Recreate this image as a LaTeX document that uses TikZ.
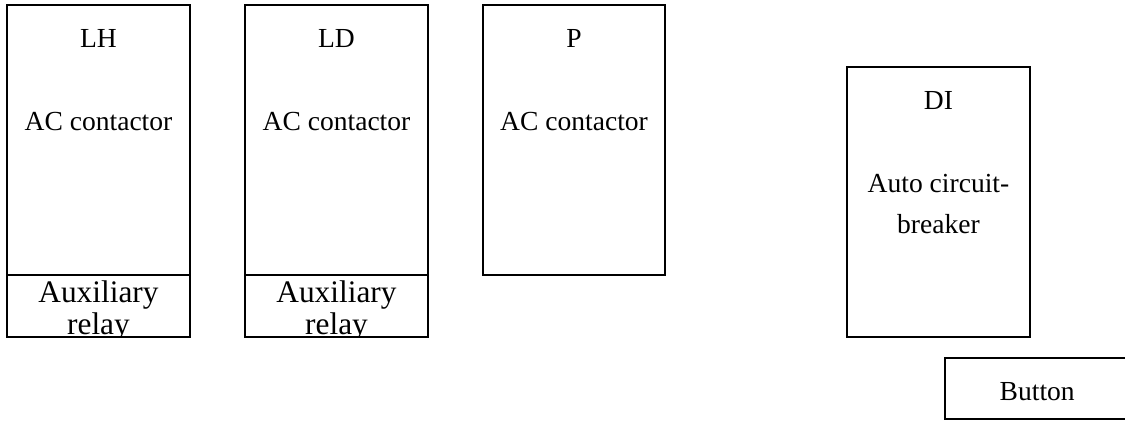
\documentclass[tikz,border=0pt]{standalone}
\usepackage{fontspec}
\setmainfont{Liberation Serif}
\usetikzlibrary{positioning}

\tikzset{
  unitbox/.style={draw=black, line width=0.8pt, inner sep=0pt},
  lbl/.style={anchor=base, inner sep=0pt, font=\fontsize{19.6}{22}\selectfont},
  auxlbl/.style={anchor=base, inner sep=0pt, font=\fontsize{22.3}{26}\selectfont}
}

\begin{document}
\begin{tikzpicture}
    % page frame
    \clip (0,0) rectangle (28.125,-10.5);
    \useasboundingbox (0,0) rectangle (28.125,-10.5);

    % LH contactor with relay
    \node[unitbox, minimum width=4.575cm, minimum height=8.3cm] (lhbox) at (2.4625,-4.275) {};
    \draw[line width=0.8pt] (0.175,-6.875) coordinate (lhdivl) -- (4.75,-6.875) coordinate (lhdivr);
    \node[lbl] (lhname) at (2.4625,-1.175) {LH};
    \node[lbl] (lhtype) at (2.4625,-3.25) {AC contactor};
    \begin{scope}
      \clip (0.175,-6.875) rectangle (4.75,-8.425);
      \node[auxlbl] (lhaux) at (2.4625,-7.55) {Auxiliary};
      \node[auxlbl] (lhrel) at (2.4625,-8.35) {relay};
    \end{scope}

    % LD contactor with relay
    \node[unitbox, minimum width=4.575cm, minimum height=8.3cm] (ldbox) at (8.4125,-4.275) {};
    \draw[line width=0.8pt] (6.125,-6.875) coordinate (lddivl) -- (10.7,-6.875) coordinate (lddivr);
    \node[lbl] (ldname) at (8.4125,-1.175) {LD};
    \node[lbl] (ldtype) at (8.4125,-3.25) {AC contactor};
    \begin{scope}
      \clip (6.125,-6.875) rectangle (10.7,-8.425);
      \node[auxlbl] (ldaux) at (8.4125,-7.55) {Auxiliary};
      \node[auxlbl] (ldrel) at (8.4125,-8.35) {relay};
    \end{scope}

    % P contactor
    \node[unitbox, minimum width=4.55cm, minimum height=6.75cm] (pbox) at (14.35,-3.5) {};
    \node[lbl] (pname) at (14.35,-1.175) {P};
    \node[lbl] (ptype) at (14.35,-3.25) {AC contactor};

    % DI breaker
    \node[unitbox, minimum width=4.575cm, minimum height=6.75cm] (dibox) at (23.4625,-5.05) {};
    \node[lbl] (diname) at (23.4625,-2.725) {DI};
    \node[lbl] (ditype) at (23.4625,-4.8) {Auto circuit-};
    \node[lbl] (ditype2) at (23.4625,-5.825) {breaker};

    % button (runs off the right edge)
    \node[unitbox, minimum width=5cm, minimum height=1.525cm] (btnbox) at (26.125,-9.7125) {};
    \node[lbl] (btnname) at (25.93,-10.0) {Button};
\end{tikzpicture}
\end{document}
